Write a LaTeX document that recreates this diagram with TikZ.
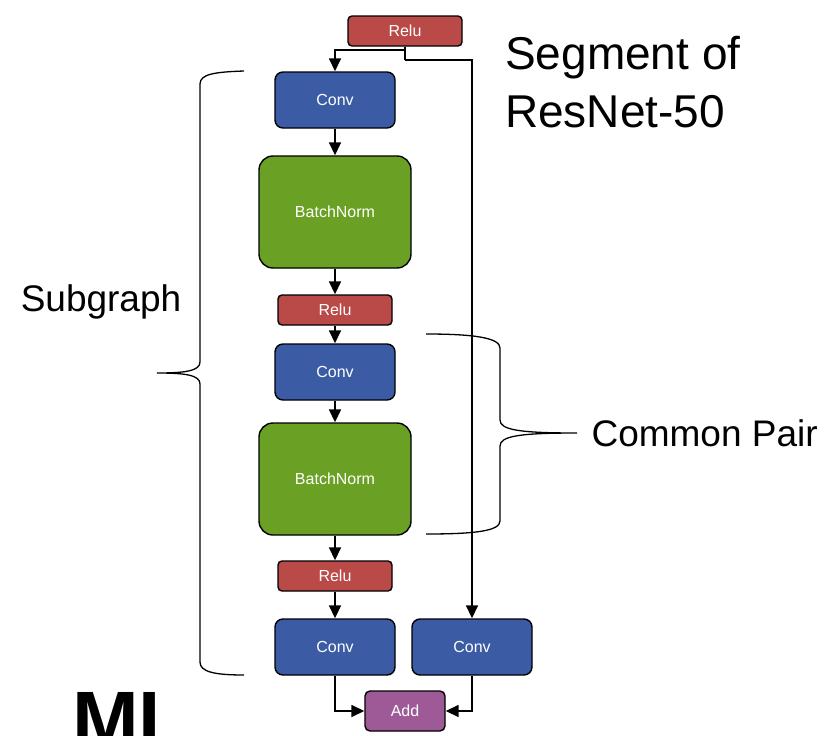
\documentclass[tikz,border=0pt]{standalone}
\usepackage{fontspec}
\setmainfont{Liberation Sans}
\usetikzlibrary{positioning,arrows.meta}

\definecolor{convblue}{RGB}{59,92,165}
\definecolor{bngreen}{RGB}{106,161,36}
\definecolor{relured}{RGB}{185,74,72}
\definecolor{addpurple}{RGB}{158,89,151}

\tikzset{
	opbox/.style={draw=black,line width=1.4pt,text=white,font=\fontsize{16}{18}\selectfont,inner sep=0pt},
	convbox/.style={opbox,fill=convblue,rounded corners=8pt,minimum width=120pt,minimum height=56pt},
	bnbox/.style={opbox,fill=bngreen,rounded corners=14pt,minimum width=152pt,minimum height=112pt},
	relubox/.style={opbox,fill=relured,rounded corners=4pt,minimum width=114pt,minimum height=30pt},
	addbox/.style={opbox,fill=addpurple,rounded corners=5pt,minimum width=80pt,minimum height=40pt},
	arr/.style={line width=1.6pt,-{Triangle[length=13pt,width=12pt]}},
	brace/.style={line width=1.3pt},
	bigtext/.style={font=\fontsize{37}{46}\selectfont}
}

\begin{document}
\begin{tikzpicture}[x=1pt,y=-1pt]
		\useasboundingbox (0,0) rectangle (833,736);
		
		% main column
		\node[relubox] (relu0) at (405,31) {Relu};
		\node[convbox] (conv1) at (335,100) {Conv};
		\node[bnbox] (bn1) at (335,212) {BatchNorm};
		\node[relubox] (relu1) at (335,310) {Relu};
		\node[convbox] (conv2) at (335,372) {Conv};
		\node[bnbox] (bn2) at (335,479) {BatchNorm};
		\node[relubox] (relu2) at (335,576) {Relu};
		\node[convbox] (conv3) at (335,647) {Conv};
		\node[convbox] (conv4) at (472,647) {Conv};
		\node[addbox] (add) at (405,711) {Add};
		
		\draw[arr] (relu0.south) -- ++(0,3) -| (conv1.north);
		\draw[line width=1.6pt] (relu0.south) -- ++(0,13) coordinate (skip);
		\draw[arr] (skip) -| (conv4.north);
		\draw[arr] (conv1) -- (bn1);
		\draw[arr] (bn1) -- (relu1);
		\draw[arr] (relu1) -- (conv2);
		\draw[arr] (conv2) -- (bn2);
		\draw[arr] (bn2) -- (relu2);
		\draw[arr] (relu2) -- (conv3);
		\draw[arr] (conv3.south) |- (add.west);
		\draw[arr] (conv4.south) |- (add.east);
		
		% braces
		\draw[brace] (244,71) .. controls (215,72) and (200,74) .. (200,84) -- (200,362)
			.. controls (200,371) and (185,373) .. (157,373)
			.. controls (185,373) and (200,375) .. (200,384) -- (200,662)
			.. controls (200,672) and (215,675) .. (244,675);
		\draw[brace] (426,334) .. controls (475,334) and (500,338) .. (500,348) -- (500,420)
			.. controls (500,430) and (520,433) .. (577,433)
			.. controls (520,433) and (500,436) .. (500,446) -- (500,521)
			.. controls (500,531) and (475,534) .. (426,534);
		
		% labels
		\node[bigtext,anchor=west] (common) at (588,433) {Common Pair};
		\node[bigtext] (sub) at (101,302) {Subgraph};
		\node[font=\fontsize{46}{58}\selectfont,align=left,anchor=north west,inner sep=0pt] (title) at (505,36) {Segment of\\ResNet-50};
		\node[font=\fontsize{80}{90}\bfseries\selectfont,anchor=north west,inner sep=0pt] (ml) at (72,692) {ML};
	\end{tikzpicture}
\end{document}
